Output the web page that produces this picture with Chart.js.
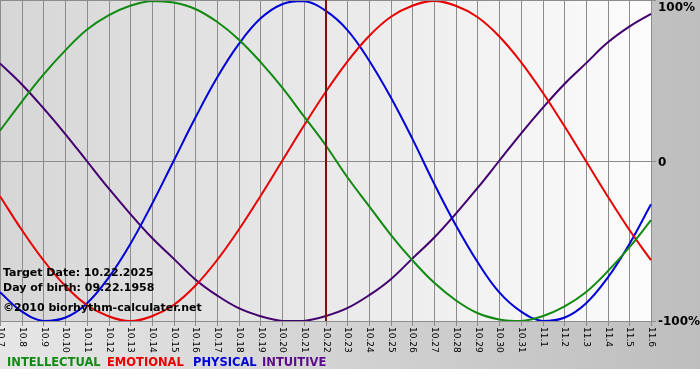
<!DOCTYPE html>
<html>
<head>
<meta charset="utf-8">
<script src="https://cdn.jsdelivr.net/npm/chart.js@4/dist/chart.umd.min.js"></script>
<style>
html,body{margin:0;padding:0;background:#ffffff;}
#wrap{width:700px;height:380px;position:relative;}
</style>
</head>
<body>
<div id="wrap"><canvas id="c" width="700" height="380"></canvas></div>
<script>
const dayLabels = ['10.7','10.8','10.9','10.10','10.11','10.12','10.13','10.14','10.15','10.16','10.17','10.18','10.19','10.20','10.21','10.22','10.23','10.24','10.25','10.26','10.27','10.28','10.29','10.30','10.31','11.1','11.2','11.3','11.4','11.5','11.6'];
const intellectual = [0.19,0.37,0.54,0.69,0.82,0.91,0.97,1.00,0.99,0.95,0.87,0.76,0.62,0.46,0.28,0.10,-0.10,-0.28,-0.46,-0.62,-0.76,-0.87,-0.95,-0.99,-1.00,-0.97,-0.91,-0.82,-0.69,-0.54,-0.37];
const emotional = [-0.22,-0.43,-0.62,-0.78,-0.90,-0.97,-1.00,-0.97,-0.90,-0.78,-0.62,-0.43,-0.22,0.00,0.22,0.43,0.62,0.78,0.90,0.97,1.00,0.97,0.90,0.78,0.62,0.43,0.22,0.00,-0.22,-0.43,-0.62];
const physical = [-0.82,-0.94,-1.00,-0.98,-0.89,-0.73,-0.52,-0.27,0.00,0.27,0.52,0.73,0.89,0.98,1.00,0.94,0.82,0.63,0.40,0.14,-0.14,-0.40,-0.63,-0.82,-0.94,-1.00,-0.98,-0.89,-0.73,-0.52,-0.27];
const intuitive = [0.61,0.48,0.33,0.17,0.00,-0.17,-0.33,-0.48,-0.61,-0.74,-0.84,-0.92,-0.97,-1.00,-1.00,-0.97,-0.92,-0.84,-0.74,-0.61,-0.48,-0.33,-0.17,0.00,0.17,0.33,0.48,0.61,0.74,0.84,0.92];
const yTickValues = [1, 0, -1];
const yTickLabels = ['100%', '0', '-100%'];
const targetLabel = '10.22';
const infoLines = ['Target Date: 10.22.2025', 'Day of birth: 09.22.1958', '\u00A92010 biorhythm-calculater.net'];
const legendNames = ['INTELLECTUAL', 'EMOTIONAL', 'PHYSICAL', 'INTUITIVE'];

const COLORS = {green:'#108a10', red:'#e80000', blue:'#0000d8', purple:'#42006e'};
const legendColors = ['#108a10', '#e80000', '#0000d8', '#5a0a8a'];
const legendX = [7, 107, 193, 262];

const decor = {
  id: 'decor',
  beforeDraw(chart) {
    const ctx = chart.ctx, a = chart.chartArea, W = chart.width;
    ctx.save();
    let g = ctx.createLinearGradient(0, 0, W, 0);
    g.addColorStop(0, '#e6e6e6');
    g.addColorStop(1, '#bebebe');
    ctx.fillStyle = g;
    ctx.fillRect(0, 0, W, 369);
    ctx.fillStyle = '#ffffff';
    ctx.fillRect(0, 369, W, chart.height - 369);
    g = ctx.createLinearGradient(a.left, 0, a.right, 0);
    g.addColorStop(0, '#d6d6d6');
    g.addColorStop(1, '#fcfcfc');
    ctx.fillStyle = g;
    ctx.fillRect(a.left, a.top - 1, a.right - a.left, a.bottom - a.top + 1);
    const xs = chart.scales.x, ys = chart.scales.y;
    ctx.strokeStyle = '#8c8c8c';
    ctx.lineWidth = 1;
    ctx.beginPath();
    dayLabels.forEach((lab, i) => {
      const x = Math.round(xs.getPixelForValue(i)) + 0.5;
      ctx.moveTo(x, a.top - 1);
      ctx.lineTo(x, a.bottom + 5);
    });
    ctx.stroke();
    ctx.beginPath();
    yTickValues.forEach(v => {
      const y = Math.round(ys.getPixelForValue(v)) + 0.5;
      ctx.moveTo(a.left, y - (v === 1 ? 1 : 0));
      ctx.lineTo(a.right + 5, y - (v === 1 ? 1 : 0));
    });
    ctx.stroke();
    ctx.fillStyle = '#000000';
    ctx.font = '9px "DejaVu Sans"';
    ctx.textAlign = 'left';
    ctx.textBaseline = 'middle';
    dayLabels.forEach((lab, i) => {
      const x = xs.getPixelForValue(i);
      ctx.save();
      ctx.translate(x + 0.5, a.bottom + 6);
      ctx.rotate(Math.PI / 2);
      ctx.fillText(lab, 0, 0);
      ctx.restore();
    });
    ctx.font = 'bold 12px "DejaVu Sans"';
    ctx.textBaseline = 'alphabetic';
    const yOff = [10, 5, 4];
    yTickValues.forEach((v, k) => {
      ctx.fillText(yTickLabels[k], a.right + 7, ys.getPixelForValue(v) + yOff[k]);
    });
    ctx.font = 'bold 11.5px "DejaVu Sans"';
    legendNames.forEach((n, k) => {
      ctx.fillStyle = legendColors[k];
      ctx.fillText(n, legendX[k], 366);
    });
    ctx.restore();
  },
  afterDatasetsDraw(chart) {
    const ctx = chart.ctx, a = chart.chartArea;
    const xs = chart.scales.x;
    ctx.save();
    const tx = Math.round(xs.getPixelForValue(dayLabels.indexOf(targetLabel)));
    ctx.strokeStyle = '#7a1010';
    ctx.lineWidth = 2;
    ctx.beginPath();
    ctx.moveTo(tx, a.top - 1);
    ctx.lineTo(tx, a.bottom);
    ctx.stroke();
    ctx.fillStyle = '#000000';
    ctx.font = 'bold 11px "DejaVu Sans"';
    ctx.textAlign = 'left';
    ctx.fillText(infoLines[0], 3, 276);
    ctx.fillText(infoLines[1], 3, 291);
    ctx.fillText(infoLines[2], 3, 311);
    ctx.restore();
  }
};

const ds = (data, color) => ({
  data, borderColor: color, borderWidth: 2, pointRadius: 0, tension: 0.4,
  fill: false, cubicInterpolationMode: 'default'
});

new Chart(document.getElementById('c'), {
  type: 'line',
  data: {
    labels: dayLabels,
    datasets: [
      ds(intellectual, COLORS.green),
      ds(emotional, COLORS.red),
      ds(physical, COLORS.blue),
      ds(intuitive, COLORS.purple)
    ]
  },
  options: {
    responsive: false,
    animation: false,
    devicePixelRatio: 1,
    layout: { padding: { left: 0, top: 1, right: 49, bottom: 59 } },
    plugins: { legend: { display: false }, tooltip: { enabled: false } },
    scales: {
      x: { type: 'category', display: false, offset: false },
      y: { display: false, min: -1, max: 1 }
    }
  },
  plugins: [decor]
});
</script>
</body>
</html>
